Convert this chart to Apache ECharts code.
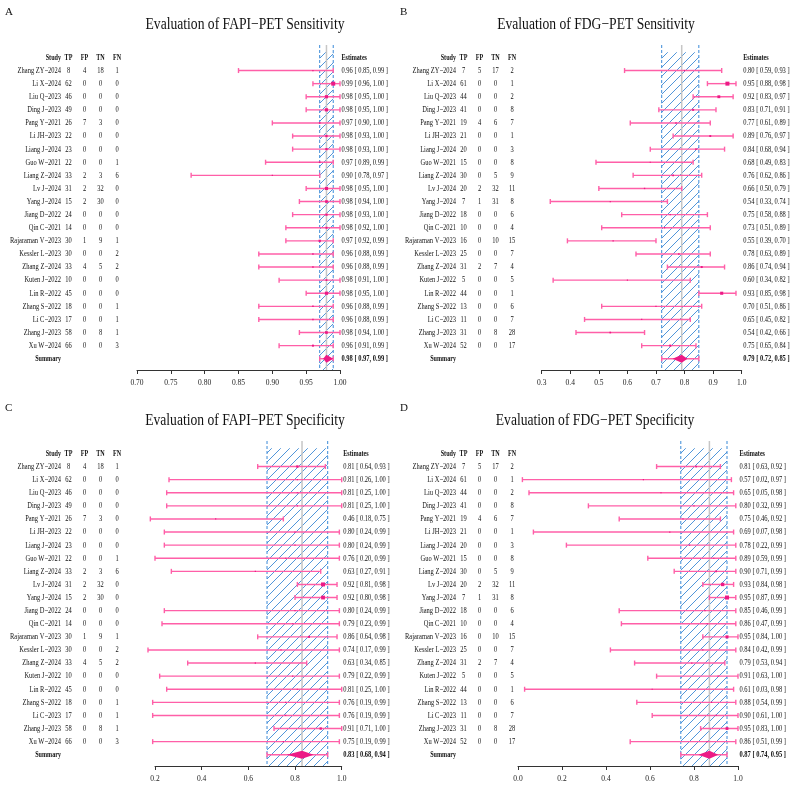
<!DOCTYPE html>
<html>
<head>
<meta charset="utf-8">
<title>FAPI vs FDG forest plots</title>
<script src="https://cdn.jsdelivr.net/npm/echarts@6/dist/echarts.min.js"></script>
<style>html,body{margin:0;padding:0;background:#fff}</style>
</head>
<body>
<div id="chart" style="width:790px;height:785px;"></div>
<script>
// study list (same order in all four panels)
const studies = ['Zhang ZY\u22122024','Li X\u22122024','Liu Q\u22122023','Ding J\u22122023','Pang Y\u22122021','Li JH\u22122023',
  'Liang J\u22122024','Guo W\u22122021','Liang Z\u22122024','Lv J\u22122024','Yang J\u22122024','Jiang D\u22122022','Qin C\u22122021',
  'Rajaraman V\u22122023','Kessler L\u22122023','Zhang Z\u22122024','Kuten J\u22122022','Lin R\u22122022','Zhang S\u22122022',
  'Li C\u22122023','Zhang J\u22122023','Xu W\u22122024'];

// 2x2 counts
const fapiTP = [8,62,46,49,26,22,23,22,33,31,15,24,14,30,30,33,10,45,18,17,58,66];
const fapiFP = [4,0,0,0,7,0,0,0,2,2,2,0,0,1,0,4,0,0,0,0,0,0];
const fapiTN = [18,0,0,0,3,0,0,0,3,32,30,0,0,9,0,5,0,0,0,0,8,0];
const fapiFN = [1,0,0,0,0,0,0,1,6,0,0,0,0,1,2,2,0,0,1,1,1,3];
const fdgTP = [7,61,44,41,19,21,20,15,30,20,7,18,10,16,25,31,5,44,13,11,31,52];
const fdgFP = [5,0,0,0,4,0,0,0,0,2,1,0,0,0,0,2,0,0,0,0,0,0];
const fdgTN = [17,0,0,0,6,0,0,0,5,32,31,0,0,10,0,7,0,0,0,0,8,0];
const fdgFN = [2,1,2,8,7,1,3,8,9,11,8,6,4,15,7,4,5,1,6,7,28,17];

// estimates [est, lo, hi]
const fapiSens = [[0.96,0.85,0.99],[0.99,0.96,1.00],[0.98,0.95,1.00],[0.98,0.95,1.00],[0.97,0.90,1.00],[0.98,0.93,1.00],
  [0.98,0.93,1.00],[0.97,0.89,0.99],[0.90,0.78,0.97],[0.98,0.95,1.00],[0.98,0.94,1.00],[0.98,0.93,1.00],[0.98,0.92,1.00],
  [0.97,0.92,0.99],[0.96,0.88,0.99],[0.96,0.88,0.99],[0.98,0.91,1.00],[0.98,0.95,1.00],[0.96,0.88,0.99],[0.96,0.88,0.99],
  [0.98,0.94,1.00],[0.96,0.91,0.99]];
const fdgSens = [[0.80,0.59,0.93],[0.95,0.88,0.98],[0.92,0.83,0.97],[0.83,0.71,0.91],[0.77,0.61,0.89],[0.89,0.76,0.97],
  [0.84,0.68,0.94],[0.68,0.49,0.83],[0.76,0.62,0.86],[0.66,0.50,0.79],[0.54,0.33,0.74],[0.75,0.58,0.88],[0.73,0.51,0.89],
  [0.55,0.39,0.70],[0.78,0.63,0.89],[0.86,0.74,0.94],[0.60,0.34,0.82],[0.93,0.85,0.98],[0.70,0.51,0.86],[0.65,0.45,0.82],
  [0.54,0.42,0.66],[0.75,0.65,0.84]];
const fapiSpec = [[0.81,0.64,0.93],[0.81,0.26,1.00],[0.81,0.25,1.00],[0.81,0.25,1.00],[0.46,0.18,0.75],[0.80,0.24,0.99],
  [0.80,0.24,0.99],[0.76,0.20,0.99],[0.63,0.27,0.91],[0.92,0.81,0.98],[0.92,0.80,0.98],[0.80,0.24,0.99],[0.79,0.23,0.99],
  [0.86,0.64,0.98],[0.74,0.17,0.99],[0.63,0.34,0.85],[0.79,0.22,0.99],[0.81,0.25,1.00],[0.76,0.19,0.99],[0.76,0.19,0.99],
  [0.91,0.71,1.00],[0.75,0.19,0.99]];
const fdgSpec = [[0.81,0.63,0.92],[0.57,0.02,0.97],[0.65,0.05,0.98],[0.80,0.32,0.99],[0.75,0.46,0.92],[0.69,0.07,0.98],
  [0.78,0.22,0.99],[0.89,0.59,0.99],[0.90,0.71,0.99],[0.93,0.84,0.98],[0.95,0.87,0.99],[0.85,0.46,0.99],[0.86,0.47,0.99],
  [0.95,0.84,1.00],[0.84,0.42,0.99],[0.79,0.53,0.94],[0.91,0.63,1.00],[0.61,0.03,0.98],[0.88,0.54,0.99],[0.90,0.61,1.00],
  [0.95,0.83,1.00],[0.86,0.51,0.99]];

// pooled [est, lo, hi] and diamond extent
const fapiSensSum = [0.98,0.97,0.99], fapiSensDia = [0.975,0.99];
const fdgSensSum = [0.79,0.72,0.85], fdgSensDia = [0.758,0.81];
const fapiSpecSum = [0.83,0.68,0.94], fapiSpecDia = [0.765,0.88];
const fdgSpecSum = [0.87,0.74,0.95], fdgSpecDia = [0.82,0.91];

const tickA = [0.70,0.75,0.80,0.85,0.90,0.95,1.00];
const tickB = [0.3,0.4,0.5,0.6,0.7,0.8,0.9,1.0];
const tickC = [0.2,0.4,0.6,0.8,1.0];
const tickD = [0.0,0.2,0.4,0.6,0.8,1.0];

const FONT = 'Liberation Serif';
const SX = 0.72;
const Y0 = -1.95, Y1 = 22.86;
const PINK = '#ff5fa8', DPINK = '#ec1a86';

const panels = [
  {letter:'A', title:'Evaluation of FAPI\u2212PET Sensitivity', ox:0, oy:0, left:137, width:203, ticks:tickA, dec:2,
   counts:[fapiTP,fapiFP,fapiTN,fapiFN], est:fapiSens, sum:fapiSensSum, dia:fapiSensDia, tx:245},
  {letter:'B', title:'Evaluation of FDG\u2212PET Sensitivity', ox:395, oy:0, left:541.7, width:200, ticks:tickB, dec:1,
   counts:[fdgTP,fdgFP,fdgTN,fdgFN], est:fdgSens, sum:fdgSensSum, dia:fdgSensDia, tx:596},
  {letter:'C', title:'Evaluation of FAPI\u2212PET Specificity', ox:0, oy:396, left:155, width:186.7, ticks:tickC, dec:1,
   counts:[fapiTP,fapiFP,fapiTN,fapiFN], est:fapiSpec, sum:fapiSpecSum, dia:fapiSpecDia, tx:245},
  {letter:'D', title:'Evaluation of FDG\u2212PET Specificity', ox:395, oy:396, left:518, width:220, ticks:tickD, dec:1,
   counts:[fdgTP,fdgFP,fdgTN,fdgFN], est:fdgSpec, sum:fdgSpecSum, dia:fdgSpecDia, tx:595}
];

function hatchPattern() {
  const c = document.createElement('canvas');
  c.width = 9; c.height = 9;
  const g = c.getContext('2d');
  g.strokeStyle = '#3d8ad6';
  g.lineWidth = 0.9;
  g.beginPath();
  g.moveTo(0, 9); g.lineTo(9, 0);
  g.moveTo(-1, 1); g.lineTo(1, -1);
  g.moveTo(8, 10); g.lineTo(10, 8);
  g.stroke();
  return c;
}
const pat = hatchPattern();

function txt(x, y, s, align, bold, size) {
  return {type:'text', x:x, y:y, scaleX:SX,
    style:{text:s, x:0, y:0, align:align, verticalAlign:'middle', fontFamily:FONT,
      fontSize:size || 9, fontWeight:bold ? 'bold' : 'normal', fill:'#111'}};
}
function fmtEst(e) {
  return e[0].toFixed(2) + ' [ ' + e[1].toFixed(2) + ', ' + e[2].toFixed(2) + ' ]';
}

const grids = [], xAxes = [], yAxes = [], series = [], graphics = [];

panels.forEach(function (p, i) {
  grids.push({left:p.left, top:p.oy + 45, width:p.width, height:325});
  xAxes.push({type:'value', gridIndex:i, position:'bottom', min:p.ticks[0], max:p.ticks[p.ticks.length - 1],
    interval:p.ticks[1] - p.ticks[0],
    axisLine:{onZero:false, lineStyle:{color:'#333', width:1}},
    axisTick:{length:4, lineStyle:{color:'#333'}},
    splitLine:{show:false},
    axisLabel:{fontFamily:FONT, fontSize:7.5, color:'#222', margin:9,
      formatter:function (v) { return v.toFixed(p.dec); }}});
  yAxes.push({type:'value', gridIndex:i, min:Y0, max:Y1, inverse:true, show:false});

  // pooled band
  series.push({type:'custom', xAxisIndex:i, yAxisIndex:i, silent:true, z:1,
    data:[[p.sum[1], p.sum[2], p.sum[0]]],
    renderItem:function (params, api) {
      const lo = api.value(0), hi = api.value(1), mid = api.value(2);
      const x0 = api.coord([lo, 0])[0], x1 = api.coord([hi, 0])[0], xm = api.coord([mid, 0])[0];
      const top = api.coord([lo, Y0])[1], bot = api.coord([lo, Y1])[1], ht = api.coord([lo, -1.4])[1];
      const dash = {stroke:'#3a8ad8', lineWidth:1, lineDash:[3, 2]};
      return {type:'group', children:[
        {type:'rect', shape:{x:x0, y:ht, width:x1 - x0, height:bot - ht}, style:{fill:{image:pat, repeat:'repeat'}}},
        {type:'line', shape:{x1:xm, y1:top, x2:xm, y2:bot}, style:{stroke:'#c6c6c6', lineWidth:1.5}},
        {type:'line', shape:{x1:x0, y1:top, x2:x0, y2:bot}, style:dash},
        {type:'line', shape:{x1:x1, y1:top, x2:x1, y2:bot}, style:dash}
      ]};
    }});

  // study CIs
  const minW = Math.min.apply(null, p.est.map(function (e) { return e[2] - e[1]; }));
  series.push({type:'custom', xAxisIndex:i, yAxisIndex:i, silent:true, z:3, clip:false,
    data:p.est.map(function (e, r) { return [e[0], e[1], e[2], r]; }),
    renderItem:function (params, api) {
      const est = api.coord([api.value(0), api.value(3)]);
      const a = api.coord([api.value(1), api.value(3)]);
      const b = api.coord([api.value(2), api.value(3)]);
      const s = Math.max(1.2, 4 * minW / (api.value(2) - api.value(1)));
      const ln = {stroke:PINK, lineWidth:1.4};
      return {type:'group', children:[
        {type:'line', shape:{x1:a[0], y1:a[1], x2:b[0], y2:b[1]}, style:ln},
        {type:'line', shape:{x1:a[0], y1:a[1] - 2.5, x2:a[0], y2:a[1] + 2.5}, style:ln},
        {type:'line', shape:{x1:b[0], y1:b[1] - 2.5, x2:b[0], y2:b[1] + 2.5}, style:ln},
        {type:'rect', shape:{x:est[0] - s / 2, y:est[1] - s / 2, width:s, height:s}, style:{fill:DPINK}}
      ]};
    }});

  // summary
  series.push({type:'custom', xAxisIndex:i, yAxisIndex:i, silent:true, z:4, clip:false,
    data:[[p.sum[0], p.sum[1], p.sum[2], 22, p.dia[0], p.dia[1]]],
    renderItem:function (params, api) {
      const row = api.value(3);
      const c = api.coord([api.value(0), row]);
      const a = api.coord([api.value(1), row]);
      const b = api.coord([api.value(2), row]);
      const d0 = api.coord([api.value(4), row])[0], d1 = api.coord([api.value(5), row])[0];
      const ln = {stroke:PINK, lineWidth:1.4};
      return {type:'group', children:[
        {type:'line', shape:{x1:a[0], y1:a[1], x2:b[0], y2:b[1]}, style:ln},
        {type:'line', shape:{x1:a[0], y1:a[1] - 2.5, x2:a[0], y2:a[1] + 2.5}, style:ln},
        {type:'line', shape:{x1:b[0], y1:b[1] - 2.5, x2:b[0], y2:b[1] + 2.5}, style:ln},
        {type:'polygon', shape:{points:[[d0, c[1]], [c[0], c[1] - 4], [d1, c[1]], [c[0], c[1] + 4]]}, style:{fill:DPINK}}
      ]};
    }});

  // table text
  const cols = [68.5, 84.5, 100.5, 117];
  const ex = p.left + p.width + 1.5;
  series.push({type:'custom', xAxisIndex:i, yAxisIndex:i, silent:true, z:5, clip:false,
    data:[[-1]].concat(p.est.map(function (e, r) { return [r]; })).concat([[22]]),
    renderItem:function (params, api) {
      const row = api.value(0);
      const y = api.coord([p.ticks[0], row])[1];
      const ch = [];
      if (row === -1) {
        ch.push(txt(p.ox + 61, y, 'Study', 'right', true, 8.5));
        ['TP', 'FP', 'TN', 'FN'].forEach(function (h, k) { ch.push(txt(p.ox + cols[k], y, h, 'center', true, 8.5)); });
        ch.push(txt(ex, y, 'Estimates', 'left', true, 8.5));
      } else if (row === 22) {
        ch.push(txt(p.ox + 61, y, 'Summary', 'right', true, 8.5));
        ch.push(txt(ex, y, fmtEst(p.sum), 'left', true));
      } else {
        ch.push(txt(p.ox + 61, y, studies[row], 'right', false));
        p.counts.forEach(function (arr, k) { ch.push(txt(p.ox + cols[k], y, String(arr[row]), 'center', false)); });
        ch.push(txt(ex, y, fmtEst(p.est[row]), 'left', false));
      }
      return {type:'group', children:ch};
    }});

  graphics.push({type:'text', x:p.tx, y:p.oy + 25, scaleX:0.85,
    style:{text:p.title, fontFamily:FONT, fontSize:16, fill:'#111', textAlign:'center', textVerticalAlign:'middle'}});
  graphics.push({type:'text', x:p.ox + 5, y:p.oy + 12,
    style:{text:p.letter, fontFamily:FONT, fontSize:11, fill:'#111', textAlign:'left', textVerticalAlign:'middle'}});
});

const chart = echarts.init(document.getElementById('chart'));
chart.setOption({
  animation:false,
  backgroundColor:'#fff',
  grid:grids, xAxis:xAxes, yAxis:yAxes, series:series,
  graphic:graphics
});
</script>
</body>
</html>
